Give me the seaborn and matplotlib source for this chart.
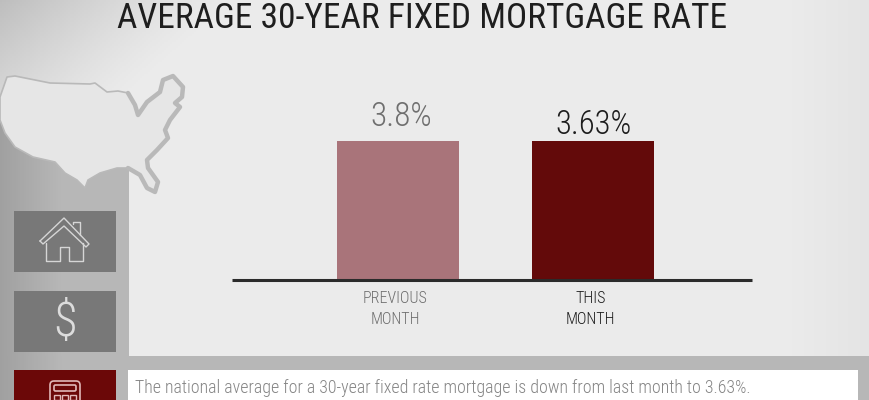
import numpy as np
import pandas as pd
import matplotlib as mpl
import matplotlib.pyplot as plt
from matplotlib.patches import Polygon, Rectangle, FancyBboxPatch
from matplotlib.transforms import ScaledTranslation
import seaborn as sns

sns.set_theme(style="white")
plt.rcParams['font.family'] = ['Roboto Condensed', 'Liberation Sans', 'DejaVu Sans']

# chart values, both bars are drawn the same height in the picture
months = ['PREVIOUS\nMONTH', 'THIS\nMONTH']
bar_heights = [3.8, 3.8]
rate_labels = ['3.8%', '3.63%']
bar_colors = ['#a9747a', '#630a0a']
text_colors = ['#6f6f6f', '#1c1c1c']

title_text = 'AVERAGE 30-YEAR FIXED MORTGAGE RATE'
note_text = 'The national average for a 30-year fixed rate mortgage is down from last month to 3.63%.'

# map outline, pixel coords of the picture
usa_x = [0, 7, 15, 50, 90, 95, 107, 118, 128, 135, 138, 147, 160, 163, 173, 183, 182, 175, 180, 170, 165, 168, 157, 147, 148, 158, 155, 147, 140, 128, 117, 100, 88, 85, 77, 65, 55, 33, 15, 5, 0]
usa_y = [97, 77, 76, 83, 84, 83, 92, 91, 93, 105, 115, 102, 92, 80, 76, 87, 97, 103, 107, 120, 130, 138, 150, 160, 168, 182, 192, 188, 175, 168, 168, 173, 180, 188, 180, 173, 162, 157, 147, 133, 120]
east_start = 8
east_end = 30

fig = plt.figure(figsize=(8.7, 4), dpi=100)

bg = fig.add_axes([0, 0, 1, 1])
bg.axis('off')

# grey ground, with the light sheet on top of it, darker in the top left corner
xx, yy = np.meshgrid(np.linspace(0, 1, 435), np.linspace(0, 1, 178))
sheet = 0.925 - 0.18 * np.clip(1 - (xx * 3.6 + yy * 1.7), 0, 1) ** 1.3 - 0.03 * np.clip((xx - 0.9) * 10, 0, 1)
ground = 0.72 - 0.09 * np.clip(1 - np.linspace(0, 1, 435) * 14, 0, 1)
bg.imshow(np.dstack([np.tile(ground, (2, 1))] * 3), extent=(0, 870, 400, 0), aspect='auto',
          vmin=0, vmax=1, zorder=0)
bg.imshow(np.dstack([sheet] * 3), extent=(0, 870, 356, 0), aspect='auto', zorder=1)
bg.imshow(np.dstack([np.tile(ground[:65], (2, 1))] * 3), extent=(0, 129, 356, 120), aspect='auto', zorder=1.5)
bg.set_xlim(0, 870)
bg.set_ylim(400, 0)

bg.add_patch(Polygon(np.column_stack([usa_x, usa_y]), closed=True, facecolor='#e6e6e6',
                     edgecolor='#b9b9b9', lw=1.2, joinstyle='round', zorder=2))
bg.plot(usa_x[east_start:east_end], usa_y[east_start:east_end], color='#b9b9b9', lw=3.2,
        solid_joinstyle='round', solid_capstyle='round', zorder=2.1)

# side buttons
bg.add_patch(Rectangle((14, 211), 102, 61, color='#787878', lw=0, zorder=2))
bg.add_patch(Rectangle((14, 291), 102, 61, color='#787878', lw=0, zorder=2))
bg.add_patch(Rectangle((14, 370), 102, 30, color='#6b0808', lw=0, zorder=2))
bg.add_patch(Rectangle((128, 370), 730, 30, color='white', lw=0, zorder=2))

# house icon
roof_x = [40, 64, 89, 86, 64, 43, 40]
roof_y = [241, 218, 244, 247, 226, 244, 241]
bg.plot(roof_x, roof_y, color='#d6d6d6', lw=1, zorder=3)
body_x = [46, 46, 60, 60, 69, 69, 83, 83]
body_y = [243, 261, 261, 247, 247, 261, 261, 243]
bg.plot(body_x, body_y, color='#d6d6d6', lw=1, zorder=3)
bg.plot([73, 73, 80, 80], [224, 222, 222, 235], color='#d6d6d6', lw=1, zorder=3)

bg.text(65, 323, '$', color='#dcdcdc', fontsize=35, fontweight=300, ha='center', va='center', zorder=3)

# calculator icon
bg.add_patch(FancyBboxPatch((50, 381), 30, 24, boxstyle='round,pad=0,rounding_size=4',
                            fc='none', ec='#e0b8b8', lw=1.2, zorder=3))
bg.add_patch(FancyBboxPatch((54, 385), 22, 6, boxstyle='round,pad=0,rounding_size=1.5',
                            fc='none', ec='#e0b8b8', lw=1.2, zorder=3))
for bx in [54, 62, 70]:
    bg.add_patch(Rectangle((bx, 395), 6, 5, fc='none', ec='#e0b8b8', lw=1, zorder=3))

bg.text(422.5, 18, title_text, fontsize=25.5, color='#1e1e1e', ha='center', va='center', zorder=4)
bg.text(135, 388, note_text, fontsize=12.9, fontweight=300, color='#858585', ha='left', va='center', zorder=4)

# chart part, axes span the base line at 232..752 px
ax = fig.add_axes([232 / 870, 1 - 279.5 / 400, 520 / 870, 189.5 / 400])
ax.patch.set_alpha(0)
df = pd.DataFrame({'month': months, 'rate': bar_heights})
sns.barplot(data=df, x='month', y='rate', hue='month', palette=bar_colors, legend=False,
            width=0.626, saturation=1, linewidth=0, ax=ax)
ax.set_xlim(-0.851, 1.815)
ax.set_ylim(0, 5.2)
ax.set_xlabel('')
ax.set_ylabel('')
ax.set_yticks([])
sns.despine(ax=ax, left=True)
ax.spines['bottom'].set_color('#2b2b2b')
ax.spines['bottom'].set_linewidth(2.2)
ax.spines['bottom'].set_capstyle('butt')
ax.spines['bottom'].set_zorder(5)
ax.tick_params(axis='x', length=0, pad=8)
nudge = ScaledTranslation(-2 / 72, 0, fig.dpi_scale_trans)
for tick, c in zip(ax.get_xticklabels(), text_colors):
    tick.set_color(c)
    tick.set_fontsize(11.5)
    tick.set_fontweight(300)
    tick.set_linespacing(1.5)
    tick.set_transform(tick.get_transform() + nudge)

ann = ax.bar_label(ax.containers[0], labels=[rate_labels[0]], padding=6, fontsize=24, fontweight=300, color=text_colors[0])
ann[0].xyann = (2, 6)
ann = ax.bar_label(ax.containers[1], labels=[rate_labels[1]], padding=0, fontsize=23.5, fontweight=300, color=text_colors[1])

fig.savefig('out.png', dpi=100)
